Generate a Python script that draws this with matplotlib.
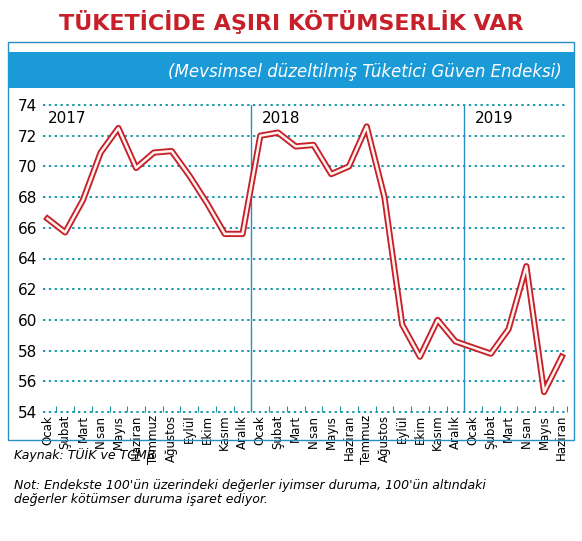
import matplotlib
matplotlib.use("Agg")
import matplotlib.pyplot as plt
from matplotlib.patches import Rectangle

months = ["Ocak","Şubat","Mart","Nisan","Mayıs","Haziran","Temmuz","Ağustos","Eylül","Ekim","Kasım","Aralık"]
labels = months + months + months[:6]
values = [66.6, 65.7, 67.8, 70.9, 72.5, 69.9, 70.9, 71.0, 69.4, 67.6, 65.6, 65.6,
          72.0, 72.2, 71.3, 71.4, 69.5, 70.0, 72.6, 68.0, 59.7, 57.6, 60.0, 58.6,
          58.2, 57.8, 59.4, 63.5, 55.3, 57.6]
years = ["2017", "2018", "2019"]
yticks = list(range(54, 75, 2))

FN = ["DejaVu Sans Condensed", "DejaVu Sans"]
teal = "#1a9aa8"
fig = plt.figure(figsize=(5.82, 5.41), dpi=100)
W, H = 582, 541
def fy(p): return 1 - p / H

fig.text(0.5, fy(22), "TÜKETİCİDE AŞIRI KÖTÜMSERLİK VAR", ha="center", va="center",
         color="#c8202a", fontsize=16, fontweight="bold", family=FN)
fig.patches.append(Rectangle((8/W, fy(440)), 566/W, (440-42)/H, transform=fig.transFigure,
                             fill=False, ec="#2a8fc0", lw=1))
fig.patches.append(Rectangle((8/W, fy(88)), 566/W, 36/H, transform=fig.transFigure,
                             fc="#1a9ad6", ec="none"))
fig.text(0.965, fy(72), "(Mevsimsel düzeltilmiş Tüketici Güven Endeksi)", ha="right", va="center",
         color="white", fontsize=12, style="italic", family=FN)

ax = fig.add_axes([43/W, fy(412), 525/W, (412-105)/H])
x = list(range(len(values)))
ax.plot(x, values, color="#c8202a", lw=4.5, solid_joinstyle="round", zorder=3, clip_on=False)
ax.plot(x, values, color="#fff4f0", lw=1.8, solid_joinstyle="round", zorder=4, clip_on=False)
ax.set_xlim(-0.25, 29.35)
ax.set_ylim(54, 74)
ax.set_yticks(yticks)
ax.set_yticklabels([str(v) for v in yticks], family=FN, fontsize=11)
ax.grid(False)
for v in yticks:
    ax.axhline(v, color=teal, lw=1.4, ls=(0, (1.2, 1.8)), zorder=1, clip_on=False)
for s in ax.spines.values():
    s.set_visible(False)
ax.tick_params(axis="y", length=0, pad=4)
ax.set_xticks([i - 0.5 for i in range(1, len(values))] + [29.3])
ax.set_xticklabels([])
ax.tick_params(axis="x", length=4, color=teal, direction="in")
ax.set_xticks(x, minor=True)
ax.set_xticklabels(labels, minor=True, rotation=90, family=FN, fontsize=8.5)
ax.tick_params(axis="x", which="minor", length=0, pad=2)
for xv in (11.5, 23.5):
    ax.axvline(xv, color="#2a8fc0", lw=1, zorder=2)
for xv, yr in zip((0, 12, 24), years):
    ax.text(xv + 0.1 if xv else 0.0, 73.6, yr, va="top", ha="left", fontsize=11, family=FN, zorder=5)

fig.text(14/W, fy(455), "Kaynak: TÜİK ve TCMB", ha="left", va="center", fontsize=9, style="italic")
fig.text(14/W, fy(492), "Not: Endekste 100'ün üzerindeki değerler iyimser duruma, 100'ün altındaki\n"
         "değerler kötümser duruma işaret ediyor.", ha="left", va="center", fontsize=9,
         style="italic", linespacing=1.1)
fig.savefig("out.png", dpi=100)
